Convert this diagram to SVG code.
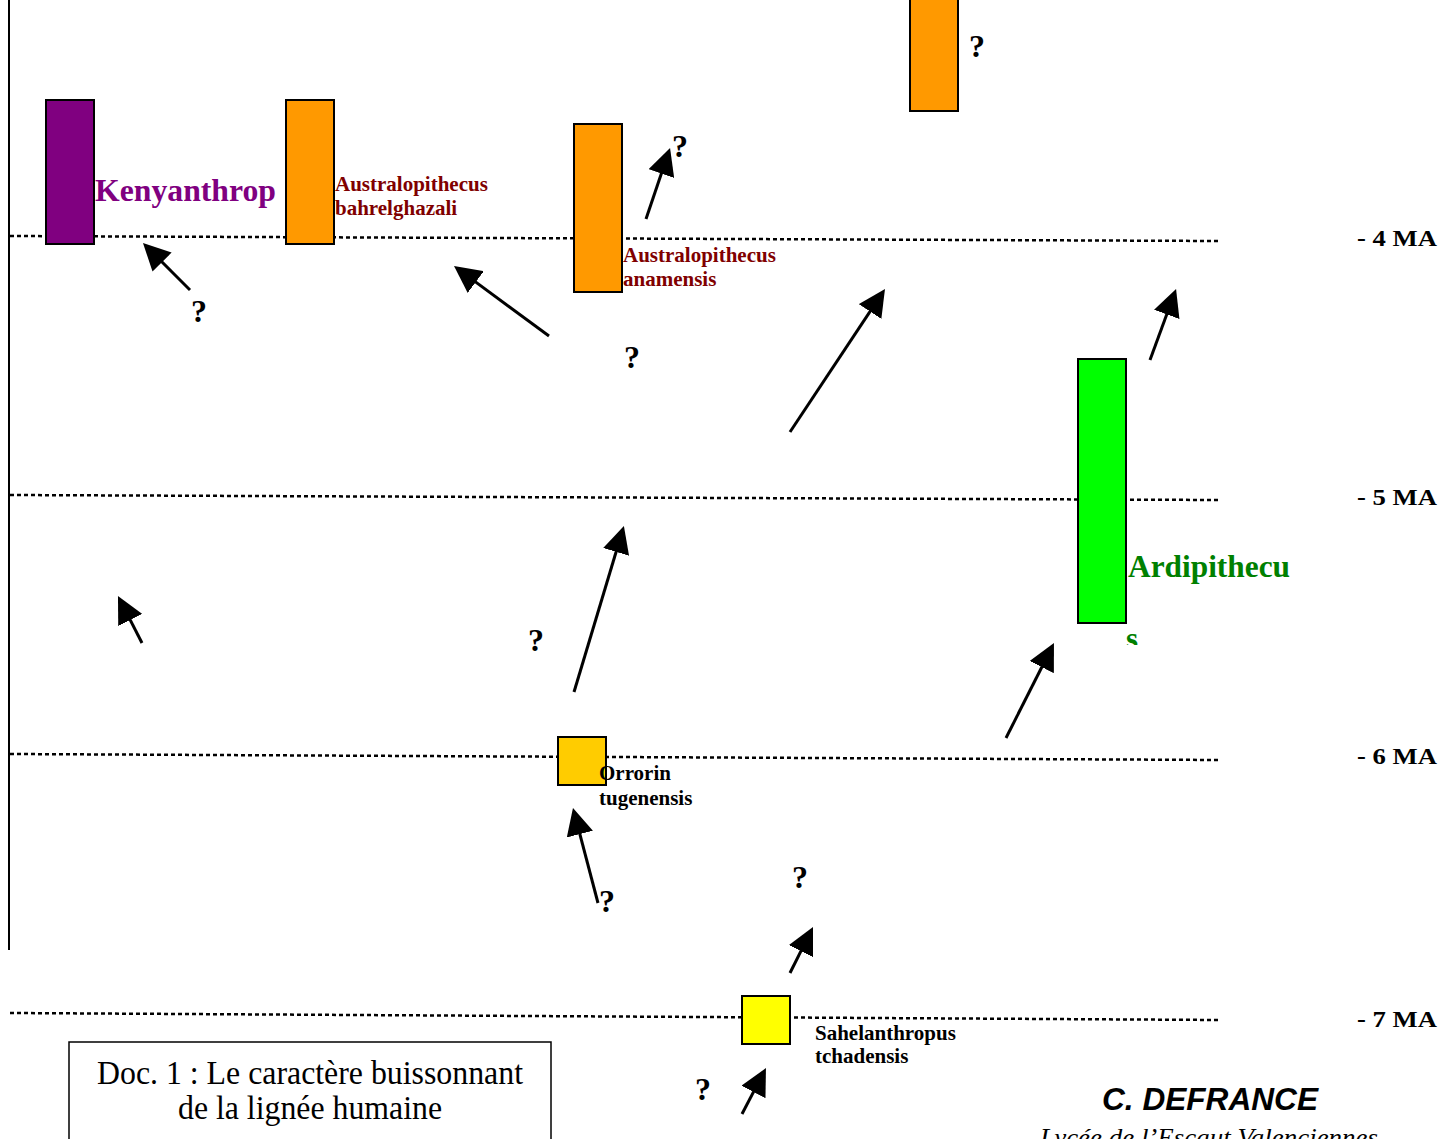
<svg xmlns="http://www.w3.org/2000/svg" width="1456" height="1139" viewBox="0 0 1456 1139">
<style>
.ma{fill:none;stroke:#000;stroke-width:2.5;stroke-dasharray:4 3}
.box{stroke:#000;stroke-width:2}
.arr{fill:none;stroke:#000;stroke-width:3;marker-end:url(#ah)}
.sp{font-family:"Liberation Serif","Times New Roman",serif;font-weight:bold;font-size:21px}
.big{font-family:"Liberation Serif","Times New Roman",serif;font-weight:bold;font-size:31px}
.q{font-family:"Liberation Serif","Times New Roman",serif;font-weight:bold;font-size:32px;fill:#000;text-anchor:middle}
.lab{font-family:"Liberation Serif","Times New Roman",serif;font-weight:bold;font-size:24px;fill:#000}
</style>
<defs>
<marker id="ah" markerUnits="userSpaceOnUse" markerWidth="27" markerHeight="27" viewBox="0 0 27 27" refX="10" refY="13.5" orient="auto">
<path d="M0,0 L27,13.5 L0,27 z" fill="#000"/>
</marker>
<clipPath id="clipS"><rect x="1100" y="600" width="100" height="45"/></clipPath>
</defs>
<rect width="1456" height="1139" fill="#fff"/>
<g id="axis">
<line x1="9" y1="0" x2="9" y2="950" stroke="#000" stroke-width="2"/>
<line class="ma" x1="10" y1="236" x2="1220" y2="241"/>
<line class="ma" x1="10" y1="495" x2="1220" y2="500"/>
<line class="ma" x1="10" y1="754" x2="1220" y2="760"/>
<line class="ma" x1="10" y1="1013" x2="1220" y2="1020"/>
<text class="lab" x="1357" y="246" textLength="80" lengthAdjust="spacingAndGlyphs">- 4 MA</text>
<text class="lab" x="1357" y="505" textLength="80" lengthAdjust="spacingAndGlyphs">- 5 MA</text>
<text class="lab" x="1357" y="764" textLength="80" lengthAdjust="spacingAndGlyphs">- 6 MA</text>
<text class="lab" x="1357" y="1027" textLength="80" lengthAdjust="spacingAndGlyphs">- 7 MA</text>
</g>
<g id="connectors">
<line class="arr" x1="190" y1="290" x2="155" y2="255"/>
<line class="arr" x1="549" y1="336" x2="467.7" y2="276.1"/>
<line class="arr" x1="646" y1="219" x2="664.6" y2="164.1"/>
<line class="arr" x1="790" y1="432" x2="875.6" y2="303.2"/>
<line class="arr" x1="1150" y1="360" x2="1170.2" y2="305"/>
<line class="arr" x1="142" y1="643" x2="125.7" y2="611.1"/>
<line class="arr" x1="574" y1="692" x2="619" y2="542.3"/>
<line class="arr" x1="1006" y1="738" x2="1046.3" y2="658.2"/>
<line class="arr" x1="598" y1="903" x2="577.3" y2="824.4"/>
<line class="arr" x1="790" y1="973" x2="805.4" y2="942.2"/>
<line class="arr" x1="742" y1="1114" x2="758.1" y2="1083.1"/>
</g>
<g id="kenyanthropus">
<rect class="box" x="46" y="100" width="48" height="144" fill="#800080"/>
<text class="big" x="95" y="201" fill="#800080" textLength="181" lengthAdjust="spacingAndGlyphs">Kenyanthrop</text>
</g>
<g id="bahrelghazali">
<rect class="box" x="286" y="100" width="48" height="144" fill="#FF9900"/>
<text class="sp" x="335" y="191" fill="#800000">Australopithecus</text>
<text class="sp" x="335" y="215" fill="#800000">bahrelghazali</text>
</g>
<g id="anamensis">
<rect class="box" x="574" y="124" width="48" height="168" fill="#FF9900"/>
<text class="sp" x="623" y="262" fill="#800000">Australopithecus</text>
<text class="sp" x="623" y="286" fill="#800000">anamensis</text>
</g>
<g id="top-orange">
<rect class="box" x="910" y="-5" width="48" height="116" fill="#FF9900"/>
</g>
<g id="ardipithecus">
<rect class="box" x="1078" y="359" width="48" height="264" fill="#00FF00"/>
<text class="big" x="1128" y="577" fill="#008000" textLength="162" lengthAdjust="spacingAndGlyphs">Ardipithecu</text>
<text class="big" x="1126" y="649" fill="#008000" clip-path="url(#clipS)">s</text>
</g>
<g id="orrorin">
<rect class="box" x="558" y="737" width="48" height="48" fill="#FFCC00"/>
<text class="sp" x="599" y="780" fill="#000">Orrorin</text>
<text class="sp" x="599" y="805" fill="#000">tugenensis</text>
</g>
<g id="sahelanthropus">
<rect class="box" x="742" y="996" width="48" height="48" fill="#FFFF00"/>
<text class="sp" x="815" y="1040" fill="#000">Sahelanthropus</text>
<text class="sp" x="815" y="1063" fill="#000">tchadensis</text>
</g>
<g id="questions">
<text class="q" x="977" y="57">?</text>
<text class="q" x="680" y="157">?</text>
<text class="q" x="199" y="322">?</text>
<text class="q" x="632" y="368">?</text>
<text class="q" x="536" y="651">?</text>
<text class="q" x="607" y="912">?</text>
<text class="q" x="800" y="888">?</text>
<text class="q" x="703" y="1100">?</text>
</g>
<g id="caption">
<rect x="69" y="1042" width="482" height="110" fill="#fff" stroke="#000" stroke-width="1.5"/>
<text x="310" y="1084" font-family="'Liberation Serif','Times New Roman',serif" font-size="34" text-anchor="middle" textLength="426" lengthAdjust="spacingAndGlyphs">Doc. 1 : Le caractère buissonnant</text>
<text x="310" y="1119" font-family="'Liberation Serif','Times New Roman',serif" font-size="34" text-anchor="middle" textLength="264" lengthAdjust="spacingAndGlyphs">de la lignée humaine</text>
</g>
<g id="author">
<text x="1102" y="1110" font-family="'Liberation Sans',Arial,sans-serif" font-weight="bold" font-style="italic" font-size="32" textLength="216" lengthAdjust="spacingAndGlyphs">C. DEFRANCE</text>
<text x="1040" y="1146" font-family="'Liberation Serif','Times New Roman',serif" font-style="italic" font-size="26" textLength="338" lengthAdjust="spacingAndGlyphs">Lycée de l’Escaut Valenciennes</text>
</g>
</svg>
